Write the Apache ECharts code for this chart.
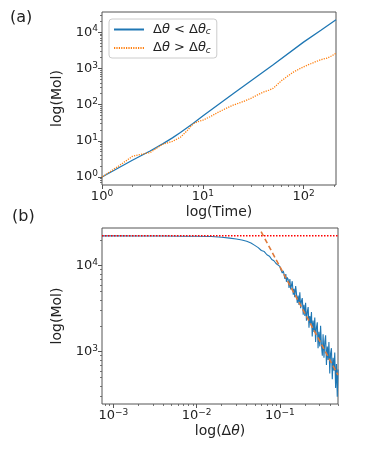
<!DOCTYPE html>
<html><head><meta charset="utf-8">
<script src="https://cdn.jsdelivr.net/npm/echarts@6/dist/echarts.min.js"></script>
<style>html,body{margin:0;padding:0;background:#fff}#c{width:374px;height:460px}</style>
</head><body><div id="c"></div><script>
// ---------- Panel (a) data ----------
const timeBlue = [1, 2, 3, 4, 5, 6, 8, 10, 20, 50, 100, 150, 210];
const molBlue = [1, 2.9, 5.2, 8.2, 12, 17, 30, 48, 200, 1250, 5300, 11500, 22000];
const timeOrange = [1, 1.5, 2, 2.5, 3, 3.5, 4, 5, 6, 7, 8, 9, 10, 12, 14, 17, 20, 25, 30, 35, 40, 45, 50, 60, 70, 80, 90, 100, 115, 130, 150, 170, 190, 210];
const molOrange = [1, 2.1, 3.7, 4.3, 4.7, 6.3, 8, 9.6, 12.5, 19, 29, 34, 37, 47, 60, 78, 96, 120, 148, 185, 222, 248, 280, 450, 620, 800, 950, 1100, 1300, 1500, 1750, 1900, 2200, 2600];
const legendNames = ['lt', 'gt'];

// ---------- Panel (b) data ----------
const dthetaB = [0.00073, 0.001, 0.002, 0.004, 0.007, 0.01, 0.015, 0.02, 0.025, 0.03, 0.035, 0.04, 0.045, 0.05, 0.055, 0.06, 0.065, 0.07, 0.075, 0.08, 0.085, 0.09, 0.095,
  0.100,0.102,0.105,0.107,0.110,0.112,0.115,0.118,0.120,0.123,0.126,0.129,0.132,0.135,0.138,0.141,0.145,0.148,0.151,0.155,0.158,0.162,0.166,0.170,0.174,0.178,0.182,0.186,0.191,0.195,0.200,0.204,0.209,0.214,0.219,0.224,0.229,0.234,0.240,0.245,0.251,0.257,0.263,0.269,0.275,0.282,0.288,0.295,0.302,0.309,0.316,0.324,0.331,0.339,0.347,0.355,0.363,0.372,0.380,0.389,0.398,0.407,0.417,0.427,0.437,0.447,0.457,0.468,0.479,0.490,0.500];
const molB = [22200, 22200, 22150, 22100, 22000, 22000, 21800, 21400, 20900, 20400, 19900, 19200, 18300, 17200, 16200, 15000, 14600, 13400, 12900, 11800, 11400, 10600, 10200,
  9800, 9200, 9400, 8200, 8700, 8100, 7000, 8000, 6500, 7300, 6900, 5500, 7000, 5300, 5900, 6600, 4600, 5400, 4300, 5800, 4900, 3700, 4500, 3500, 4900, 3200, 3900, 4200, 2700, 3500, 2600, 3700, 2300, 2900, 3300, 1900, 2600, 2100, 2900, 1500, 2300, 1700, 2500, 1300, 1900, 2200, 1100, 1700, 1150, 2000, 1200, 900, 1600, 850, 1300, 1550, 700, 1150, 800, 1300, 560, 950, 1100, 480, 850, 600, 980, 380, 720, 300, 620];
const plateauMol = 22300;
const fitTheta = [0.0596, 0.5];
const fitMol = [24800, 535];

// ---------- tick values ----------
const aXMajor = [1, 10, 100];
const aXMinor = [2,3,4,5,6,7,8,9,20,30,40,50,60,70,80,90,200];
const aYMajor = [1, 10, 100, 1000, 10000];
const aYMinor = [0.7,0.8,0.9,2,3,4,5,6,7,8,9,20,30,40,50,60,70,80,90,200,300,400,500,600,700,800,900,2000,3000,4000,5000,6000,7000,8000,9000,20000,30000];
const bXMajor = [0.001, 0.01, 0.1];
const bXMinor = [0.0008,0.0009,0.002,0.003,0.004,0.005,0.006,0.007,0.008,0.009,0.02,0.03,0.04,0.05,0.06,0.07,0.08,0.09,0.2,0.3,0.4,0.5];
const bYMajor = [1000, 10000];
const bYMinor = [300,400,500,600,700,800,900,2000,3000,4000,5000,6000,7000,8000,9000,20000];

const FONT = 'DejaVu Sans';
const TXT = '#222';
const FRAME = '#555';
const pairs = (xs, ys) => xs.map((x, i) => [x, ys[i]]);

function powLabel(v) {
  const l = Math.log10(v);
  const e = Math.round(l);
  if (Math.abs(l - e) > 1e-6) return '';
  const s = String(e).replace('-', '\u2212');
  return '{b|10}{s|' + s + '}';
}
const richTick = {
  b: {fontSize: 13, fontFamily: FONT, color: TXT, lineHeight: 15},
  s: {fontSize: 9, fontFamily: FONT, color: TXT, verticalAlign: 'top', lineHeight: 9, padding: [0, 0, 6, 0]}
};

function majorAxis(gridIndex, min, max, major, isX, name, nameGap, nameRich) {
  return {
    type: 'log', logBase: 10, gridIndex, min, max,
    position: isX ? 'bottom' : 'left',
    axisLine: {show: false},
    splitLine: {show: false},
    axisTick: {show: true, length: 4, lineStyle: {color: FRAME, width: 1}, customValues: major},
    axisLabel: {show: true, customValues: major, formatter: powLabel, rich: richTick, margin: 4,
      fontFamily: FONT, color: TXT},
    name: name, nameLocation: 'middle', nameGap: nameGap,
    nameTextStyle: {fontFamily: FONT, fontSize: 14, color: TXT, rich: nameRich}
  };
}
function minorAxis(gridIndex, min, max, minor, isX) {
  return {
    type: 'log', logBase: 10, gridIndex, min, max,
    position: isX ? 'bottom' : 'left',
    axisLine: {show: false},
    splitLine: {show: false},
    axisTick: {show: true, length: 2, lineStyle: {color: FRAME, width: 0.8}, customValues: minor},
    axisLabel: {show: false}
  };
}
const nameRich = {
  n: {fontFamily: FONT, fontSize: 14, color: TXT},
  i: {fontFamily: FONT, fontSize: 14, color: TXT, fontStyle: 'italic'}
};
const legRich = {
  n: {fontFamily: FONT, fontSize: 13, color: TXT},
  i: {fontFamily: FONT, fontSize: 13, color: TXT, fontStyle: 'italic'},
  s: {fontFamily: FONT, fontSize: 9, color: TXT, fontStyle: 'italic', verticalAlign: 'bottom', padding: [5, 0, 0, 0]}
};

const chart = echarts.init(document.getElementById('c'));
chart.setOption({
  animation: false,
  backgroundColor: '#fff',
  textStyle: {fontFamily: FONT},
  grid: [
    {left: 102, top: 12, width: 234, height: 173, show: true, borderColor: FRAME, borderWidth: 1, backgroundColor: 'transparent'},
    {left: 102, top: 228, width: 236, height: 176, show: true, borderColor: FRAME, borderWidth: 1, backgroundColor: 'transparent'}
  ],
  graphic: [
    {type: 'text', left: 10, top: 10, style: {text: '(a)', fontSize: 16, fontFamily: FONT, fill: TXT}},
    {type: 'text', left: 12, top: 209, style: {text: '(b)', fontSize: 16, fontFamily: FONT, fill: TXT}}
  ],
  legend: {
    left: 109, top: 19, orient: 'vertical',
    data: legendNames,
    itemWidth: 30, itemHeight: 12, itemGap: 5,
    padding: [4, 6, 3, 4],
    backgroundColor: 'rgba(255,255,255,0.85)', borderColor: '#ccc', borderWidth: 1, borderRadius: 3,
    itemStyle: {opacity: 0, borderWidth: 0},
    formatter: n => n === 'lt' ? '{n|Δ}{i|θ}{n| < Δ}{i|θ}{s|c}' : '{n|Δ}{i|θ}{n| > Δ}{i|θ}{s|c}',
    textStyle: {rich: legRich, padding: [0, 0, 0, 4]}
  },
  xAxis: [
    majorAxis(0, 1, 210, aXMajor, true, 'log(Time)', 20, nameRich),
    minorAxis(0, 1, 210, aXMinor, true),
    majorAxis(1, 0.00073, 0.5, bXMajor, true, '{n|log(Δ}{i|θ}{n|)}', 20, nameRich),
    minorAxis(1, 0.00073, 0.5, bXMinor, true)
  ],
  yAxis: [
    majorAxis(0, 0.6, 36000, aYMajor, false, 'log(Mol)', 30, nameRich),
    minorAxis(0, 0.6, 36000, aYMinor, false),
    majorAxis(1, 247, 27400, bYMajor, false, 'log(Mol)', 34, nameRich),
    minorAxis(1, 247, 27400, bYMinor, false)
  ],
  series: [
    {name: 'lt', type: 'line', xAxisIndex: 0, yAxisIndex: 0, data: pairs(timeBlue, molBlue), showSymbol: false, symbol: 'none',
      lineStyle: {color: '#1f77b4', width: 1.3}, itemStyle: {color: '#1f77b4'}},
    {name: 'gt', type: 'line', xAxisIndex: 0, yAxisIndex: 0, data: pairs(timeOrange, molOrange), showSymbol: false, symbol: 'none',
      lineStyle: {color: '#ff7f0e', width: 1.3, type: [1.2, 1.2]}, itemStyle: {color: '#ff7f0e'}},
    {name: 'curve', type: 'line', xAxisIndex: 2, yAxisIndex: 2, data: pairs(dthetaB, molB), showSymbol: false, symbol: 'none',
      lineStyle: {color: '#1f77b4', width: 1.1}},
    {name: 'plateau', type: 'line', xAxisIndex: 2, yAxisIndex: 2, data: [[0.00073, plateauMol], [0.5, plateauMol]], showSymbol: false, symbol: 'none',
      lineStyle: {color: '#ff0000', width: 1.5, type: [1.5, 1.5]}},
    {name: 'fit', type: 'line', xAxisIndex: 2, yAxisIndex: 2, data: pairs(fitTheta, fitMol), showSymbol: false, symbol: 'none',
      lineStyle: {color: '#e07a3a', width: 1.6, type: [5, 3]}}
  ]
});
</script></body></html>
